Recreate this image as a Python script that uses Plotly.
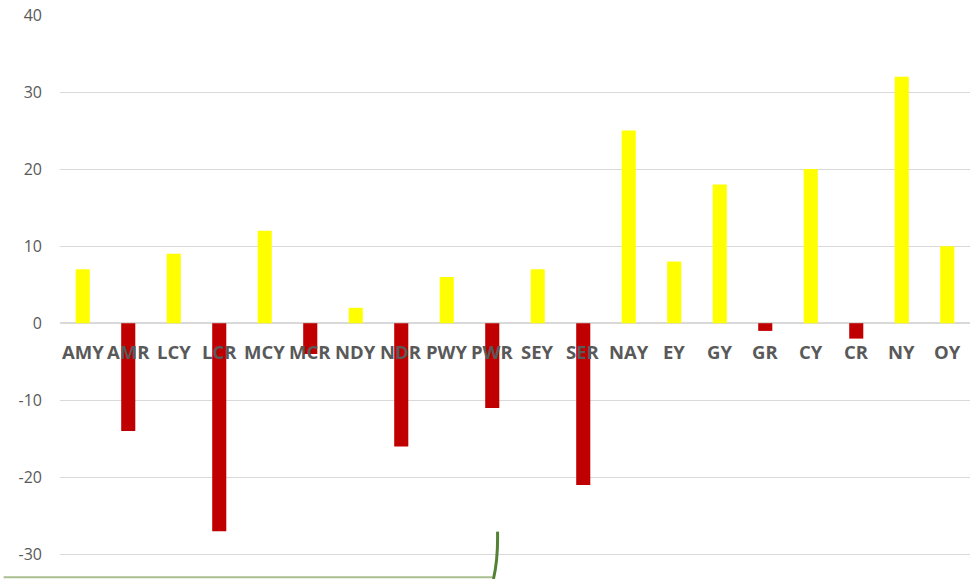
import plotly.graph_objects as go

categories = ["AMY", "AMR", "LCY", "LCR", "MCY", "MCR", "NDY", "NDR", "PWY", "PWR",
              "SEY", "SER", "NAY", "EY", "GY", "GR", "CY", "CR", "NY", "OY"]
values = [7, -14, 9, -27, 12, -4, 2, -16, 6, -11,
          7, -21, 25, 8, 18, -1, 20, -2, 32, 10]
tick_vals = [-30, -20, -10, 0, 10, 20, 30, 40]
tick_text = ["-30", "-20", "-10", "0", "10", "20", "30", "40"]

YELLOW = "#FFFF00"
RED = "#C00000"
colors = [YELLOW if v >= 0 else RED for v in values]

fig = go.Figure()
fig.add_trace(go.Bar(
    x=categories, y=values, marker=dict(color=colors, line=dict(width=0)),
    width=0.31, showlegend=False, hoverinfo="x+y"))

for c in categories:
    fig.add_annotation(x=c, y=0, xref="x", yref="y", text="<b>%s</b>" % c,
                       showarrow=False, yanchor="middle", yshift=-28,
                       font=dict(family="Open Sans, sans-serif", size=18.5, color="#595959"))

# decorative artifact at the bottom of the original screenshot
fig.add_shape(type="line", xref="paper", yref="paper", x0=-0.062, x1=0.475, y0=0.003, y1=0.003,
              line=dict(color="#A9C08F", width=2))
fig.add_shape(type="path", xref="paper", yref="paper",
              path="M 0.4808 0.084 Q 0.4815 0.035 0.4763 0.0",
              line=dict(color="#548235", width=3))

fig.update_layout(
    width=972, height=579,
    margin=dict(l=60, r=2, t=15, b=0),
    paper_bgcolor="white", plot_bgcolor="white",
    xaxis=dict(showticklabels=False, showgrid=False, zeroline=False, showline=False,
               range=[-0.5, 19.5]),
    yaxis=dict(range=[-33.2, 40], tickvals=tick_vals, ticktext=tick_text,
               showgrid=True, gridcolor="#D9D9D9",
               gridwidth=1, zeroline=True, zerolinecolor="#D9D9D9", zerolinewidth=2,
               showline=False, ticklabelstandoff=17,
               tickfont=dict(family="Open Sans, sans-serif", size=16, color="#595959")),
)

fig.write_html("out.html")
